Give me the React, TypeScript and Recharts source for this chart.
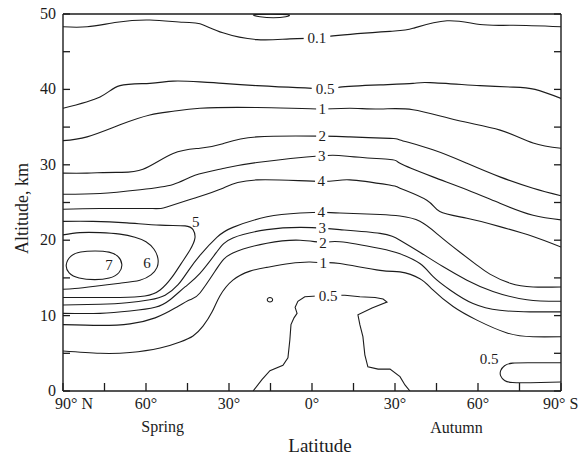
import React from 'react';
import { ComposedChart, Line, Scatter, XAxis, YAxis, ReferenceLine } from 'recharts';

const FONT = '"Liberation Serif", "Times New Roman", serif';
const INK = '#1c1c1c';

// Axis ticks (latitude: negative = north, positive = south)
const LAT_TICKS = [-90, -75, -60, -45, -30, -15, 0, 15, 30, 45, 60, 75, 90];
const LAT_TICK_LABELS = ['90° N', '', '60°', '', '30°', '', '0°', '', '30°', '', '60°', '', '90° S'];
const ALT_TICKS = [0, 5, 10, 15, 20, 25, 30, 35, 40, 45, 50];
const ALT_TICK_LABELS = ['0', '', '10', '', '20', '', '30', '', '40', '', '50'];

// Contour lines: [latitude, altitude km]
const c01: [number, number][] = [[-90,48.3],[-81.3,48.3],[-70.5,48.9],[-58.6,49.2],[-46.6,48.9],[-40.5,48.7],[-32.2,47.5],[-19.9,46.6],[-8,46.7],[1.8,46.8],[7.6,47.1],[28.2,47.7],[36.5,48.1],[48.8,49.1],[60.7,48.6],[72.7,48.5],[90,48.3]];
const cTop: [number, number][] = [[-23,49.95],[-19,49.6],[-14,49.45],[-9,49.6],[-7,49.95],[-15,49.98]];
const c05: [number, number][] = [[-90,37.5],[-76.6,39.0],[-69.4,40.5],[-58.6,40.8],[-50.2,41.1],[-40.5,41.0],[-32.2,40.8],[-19.9,40.5],[4.7,40.1],[10.1,40.3],[24.6,40.6],[36.5,40.8],[42.7,40.9],[60.7,40.5],[72.7,40.3],[80.6,40.0],[90,38.8]];
const c1: [number, number][] = [[-90,33.2],[-81.3,33.7],[-69.4,35.3],[-58.6,36.6],[-50.2,37.1],[-40.5,37.5],[-19.9,37.6],[3.7,37.4],[13.7,37.5],[24.6,37.4],[36.5,37.3],[52.4,35.9],[68.0,34.6],[79.9,32.9],[90,32.2]];
const c2: [number, number][] = [[-90,28.9],[-81.3,28.9],[-70.5,29.0],[-61.1,29.4],[-50.2,31.5],[-40.5,32.2],[-32.2,32.8],[-19.9,33.7],[3.7,33.8],[13.7,33.7],[28.2,33.5],[31.8,33.3],[43.7,32.0],[56.0,30.2],[67.9,28.4],[79.9,26.9],[90,25.9]];
const c3: [number, number][] = [[-90,26.1],[-76.6,26.2],[-62.1,26.7],[-50.2,27.4],[-42.3,28.6],[-32.2,29.5],[-19.9,30.3],[3.5,31.2],[13.7,31.1],[28.2,30.7],[31.8,30.2],[43.7,28.4],[56.0,26.7],[67.9,24.9],[79.9,23.3],[90,22.7]];
const c4a: [number, number][] = [[-90,24.1],[-76.6,24.2],[-58.6,24.2],[-52.5,24.4],[-42.3,25.6],[-32.2,26.9],[-19.9,28.0],[3.3,27.8],[13.7,28.0],[28.2,27.3],[31.8,26.9],[41.5,25.3],[46.2,23.8],[56.0,22.9],[67.9,21.8],[79.9,20.5],[90,19.1]];
const c5: [number, number][] = [[-90,22.5],[-79.2,22.5],[-66.9,22.3],[-54.9,22.0],[-45.9,21.9],[-43.0,21.4],[-42.3,20.3],[-44.1,18.7],[-47.3,16.9],[-50.6,15.1],[-54.9,13.4],[-60.4,12.6],[-69.4,12.4],[-80.2,12.4],[-90,12.4]];
const c6: [number, number][] = [[-90,20.7],[-83.9,21.0],[-76.6,21.0],[-69.4,20.8],[-64.0,20.4],[-60.0,19.8],[-57.1,18.8],[-55.7,17.6],[-56.0,16.4],[-58.2,15.4],[-62.2,14.7],[-69.4,14.3],[-78.4,13.9],[-85.7,13.6],[-90,13.5]];
const c7: [number, number][] = [[-89.3,16.7],[-87.5,18.0],[-83.9,18.5],[-78.4,18.6],[-73.0,18.5],[-69.8,17.9],[-68.3,16.8],[-69.4,15.6],[-73.0,14.9],[-78.4,14.7],[-84.6,14.9],[-88.2,15.6]];
const c4b: [number, number][] = [[-90,11.4],[-76.6,11.5],[-66.9,11.7],[-58.6,12.1],[-53.1,12.7],[-48.4,14.1],[-44.8,15.9],[-40.5,18.0],[-34.3,20.4],[-28.6,21.7],[-16.3,23.1],[-4.3,23.6],[3.3,23.7],[10.1,23.6],[24.6,23.4],[31.8,23.2],[39.0,22.5],[46.3,20.5],[53.5,18.4],[59.6,16.7],[64.3,15.5],[71.6,14.3],[79.9,13.8],[90,13.8]];
const c3b: [number, number][] = [[-90,10.3],[-76.6,10.3],[-65.8,10.6],[-56.7,11.1],[-51.3,12.1],[-45.9,13.8],[-40.5,15.6],[-34.3,18.5],[-28.6,20.3],[-16.3,21.4],[-4.3,21.7],[3.7,21.6],[10.1,21.4],[24.6,20.9],[31.8,20.0],[39.0,18.4],[47.3,16.5],[56.0,14.7],[65.4,13.2],[77.7,12.1],[90,11.9]];
const c2b: [number, number][] = [[-90,8.8],[-76.6,8.7],[-65.8,8.9],[-56.7,9.7],[-49.5,11.0],[-44.1,12.1],[-40.5,13.0],[-34.3,16.3],[-28.6,18.3],[-16.3,19.6],[-4.3,20.0],[4.0,19.7],[10.1,19.8],[24.6,18.9],[31.8,18.2],[39.0,16.9],[43.7,15.2],[49.9,13.4],[58.2,11.6],[67.9,10.7],[78.8,10.5],[90,10.5]];
const c1b: [number, number][] = [[-90,5.3],[-76.6,5.0],[-65.8,5.1],[-54.9,5.7],[-47.7,6.5],[-43.0,7.3],[-39.4,8.6],[-36.1,10.5],[-33.3,12.6],[-28.6,14.7],[-22.4,15.9],[-16.3,16.4],[-8.0,16.9],[-0.7,17.1],[4.1,17.0],[10.1,16.9],[24.6,16.0],[31.8,15.8],[39.0,14.9],[43.7,13.4],[51.0,11.2],[59.6,9.4],[70.5,7.7],[79.9,7.2],[90,7.2]];
const c05b: [number, number][] = [[-21.3,0],[-18.1,1.5],[-15.2,2.7],[-10.5,3.4],[-8.7,4.4],[-8.0,6.8],[-7.6,8.8],[-6.5,9.7],[-5.4,10.3],[-6.1,11.1],[-5.1,11.9],[-2.6,12.5],[1.8,12.6],[5.8,12.7],[11.9,12.7],[17.3,12.5],[22.8,12.4],[25.7,12.2],[27.1,11.8],[21.7,11.0],[16.6,10.1],[17.3,8.8],[18.4,7.2],[19.1,4.8],[20.2,3.2],[23.9,2.9],[28.2,2.9],[31.8,1.9],[33.6,0.8],[35.4,0]];
const c05c: [number, number][] = [[90,3.75],[79,3.75],[72.5,3.7],[69.6,3.35],[68.2,2.7],[68.2,2.0],[69.6,1.4],[72.5,1.12],[79,1.1],[90,1.2]];
const cRing: [number, number][] = [[-16.3,12.1],[-15.9,12.35],[-15.2,12.42],[-14.5,12.35],[-14.1,12.1],[-14.5,11.85],[-15.2,11.78],[-15.9,11.85]];

// Contour labels
const LINE_LABELS = [
  { lat: 1.8, alt: 46.8, text: '0.1' },
  { lat: 4.7, alt: 40.1, text: '0.5' },
  { lat: 3.7, alt: 37.4, text: '1' },
  { lat: 3.7, alt: 33.8, text: '2' },
  { lat: 3.5, alt: 31.2, text: '3' },
  { lat: 3.3, alt: 27.8, text: '4' },
  { lat: 3.3, alt: 23.7, text: '4' },
  { lat: 3.7, alt: 21.6, text: '3' },
  { lat: 4.0, alt: 19.6, text: '2' },
  { lat: 4.1, alt: 17.0, text: '1' },
  { lat: 5.8, alt: 12.6, text: '0.5' },
];
const FREE_LABELS = [
  { lat: -42.0, alt: 22.4, text: '5' },
  { lat: -59.6, alt: 17.0, text: '6' },
  { lat: -73.4, alt: 16.7, text: '7' },
  { lat: 64.0, alt: 4.2, text: '0.5' },
];

const toPts = (arr: [number, number][]) => arr.map(([lat, alt]) => ({ lat, alt }));

const OPEN = [c01, c05, c1, c2, c3, c4a, c5, c6, c4b, c3b, c2b, c1b, c05c];
const CLOSED = [cTop, c7, cRing];

function XTick(props: any) {
  const { x, y, payload } = props;
  const i = LAT_TICKS.indexOf(payload.value);
  const label = LAT_TICK_LABELS[i];
  const v = payload.value;
  let tx = x;
  let anchor: any = 'middle';
  if (v === -90) { tx = x - 8; anchor = 'start'; }
  if (v === 90) { tx = x - 18; anchor = 'start'; }
  return (
    <g>
      <line x1={x} y1={y} x2={x} y2={y - 8} stroke={INK} strokeWidth={1.3} />
      {label ? (
        <text x={tx} y={y + 18} textAnchor={anchor} fontFamily={FONT} fontSize={16} fill={INK}>{label}</text>
      ) : null}
    </g>
  );
}

function YTickLeft(props: any) {
  const { x, y, payload } = props;
  const label = ALT_TICK_LABELS[ALT_TICKS.indexOf(payload.value)];
  return (
    <g>
      <path d={`M${x},${y}h7`} stroke={INK} strokeWidth={1.3} fill="none" />
      {label ? (
        <text x={x - 7} y={y + 5} textAnchor="end" fontFamily={FONT} fontSize={16} fill={INK}>{label}</text>
      ) : null}
    </g>
  );
}

function YTickRight(props: any) {
  const { x, y } = props;
  return <path d={`M${x},${y}h-7`} stroke={INK} strokeWidth={1.3} fill="none" />;
}

function XLabelContent(props: any) {
  const vb = props.viewBox || { x: 63, y: 391, width: 498, height: 65 };
  return (
    <g fontFamily={FONT} fill={INK}>
      <text x={vb.x + vb.width * 0.2} y={vb.y + 41} textAnchor="middle" fontSize={16}>Spring</text>
      <text x={vb.x + vb.width * 0.79} y={vb.y + 42} textAnchor="middle" fontSize={16}>Autumn</text>
      <text x={vb.x + vb.width * 0.516} y={vb.y + 61} textAnchor="middle" fontSize={19}>Latitude</text>
    </g>
  );
}

function YLabelContent(props: any) {
  const vb = props.viewBox || { x: 0, y: 14, width: 63, height: 377 };
  const cx = vb.x + 28;
  const cy = vb.y + vb.height / 2 + 6;
  return (
    <text x={cx} y={cy} transform={`rotate(-90 ${cx} ${cy})`} textAnchor="middle" fontFamily={FONT} fontSize={18} fill={INK}>
      Altitude, km
    </text>
  );
}

function LineLabel(props: any) {
  const { cx, cy, payload } = props;
  const w = payload.text.length * 7.2 + 5;
  return (
    <g>
      <rect x={cx - w / 2} y={cy - 7} width={w} height={14} fill="#fff" />
      <text x={cx} y={cy + 5} textAnchor="middle" fontFamily={FONT} fontSize={15} fill={INK}>{payload.text}</text>
    </g>
  );
}

function FreeLabel(props: any) {
  const { cx, cy, payload } = props;
  return (
    <text x={cx} y={cy + 5} textAnchor="middle" fontFamily={FONT} fontSize={15} fill={INK}>{payload.text}</text>
  );
}

export default function App() {
  return (
    <div style={{ position: 'absolute', left: 0, top: 0, width: 580, height: 456, background: '#fff' }}>
      <ComposedChart width={580} height={456} margin={{ top: 14, right: 0, bottom: 0, left: 0 }}>
        <XAxis
          dataKey="lat"
          type="number"
          domain={[-90, 90]}
          allowDataOverflow
          ticks={LAT_TICKS}
          interval={0}
          height={65}
          tickSize={0}
          tickMargin={0}
          tickLine={false}
          tick={<XTick />}
          axisLine={{ stroke: INK, strokeWidth: 1.4 }}
          label={XLabelContent}
        />
        <YAxis
          yAxisId="l"
          type="number"
          domain={[0, 50]}
          allowDataOverflow
          ticks={ALT_TICKS}
          interval={0}
          width={63}
          tickSize={0}
          tickMargin={0}
          tickLine={false}
          tick={<YTickLeft />}
          axisLine={{ stroke: INK, strokeWidth: 1.4 }}
          label={YLabelContent}
        />
        <YAxis
          yAxisId="r"
          orientation="right"
          type="number"
          domain={[0, 50]}
          allowDataOverflow
          ticks={ALT_TICKS}
          interval={0}
          width={19}
          tickSize={0}
          tickMargin={0}
          tickLine={false}
          tick={<YTickRight />}
          axisLine={{ stroke: INK, strokeWidth: 1.4 }}
        />
        <ReferenceLine yAxisId="l" y={50} stroke={INK} strokeWidth={1.4} />
        {OPEN.map((c, i) => (
          <Line
            key={'o' + i}
            yAxisId="l"
            data={toPts(c)}
            dataKey="alt"
            type="natural"
            dot={false}
            activeDot={false}
            stroke={INK}
            strokeWidth={1.1}
            isAnimationActive={false}
          />
        ))}
        <Line
          yAxisId="l"
          data={toPts(c05b)}
          dataKey="alt"
          type="linear"
          dot={false}
          activeDot={false}
          stroke={INK}
          strokeWidth={1.1}
          isAnimationActive={false}
        />
        {CLOSED.map((c, i) => (
          <Line
            key={'c' + i}
            yAxisId="l"
            data={toPts(c)}
            dataKey="alt"
            type="basisClosed"
            dot={false}
            activeDot={false}
            stroke={INK}
            strokeWidth={1.1}
            isAnimationActive={false}
          />
        ))}
        <Scatter yAxisId="l" data={LINE_LABELS} dataKey="alt" shape={<LineLabel />} isAnimationActive={false} />
        <Scatter yAxisId="l" data={FREE_LABELS} dataKey="alt" shape={<FreeLabel />} isAnimationActive={false} />
      </ComposedChart>
    </div>
  );
}
